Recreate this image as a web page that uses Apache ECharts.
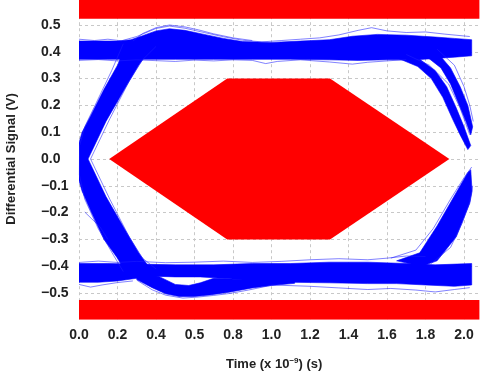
<!DOCTYPE html>
<html><head><meta charset="utf-8">
<script src="https://cdn.jsdelivr.net/npm/echarts@6/dist/echarts.min.js"></script>
<style>html,body{margin:0;padding:0;background:#fff}#c{width:480px;height:375px}</style>
</head><body><div id="c"></div>
<script>
// ---- tick labels ----
const X_TICKS = [0, 0.2, 0.4, 0.6, 0.8, 1.0, 1.2, 1.4, 1.6, 1.8, 2.0];
const X_TICK_LABELS = ['0.0', '0.2', '0.4', '0.5', '0.8', '1.0', '1.2', '1.4', '1.6', '1.8', '2.0'];
const Y_TICKS = [-0.5, -0.4, -0.3, -0.2, -0.1, 0, 0.1, 0.2, 0.3, 0.4, 0.5];
const Y_TICK_LABELS = ['\u22120.5', '\u22120.4', '\u22120.3', '\u22120.2', '\u22120.1', '0.0', '0.1', '0.2', '0.3', '0.4', '0.5'];

// ---- mask regions (red) ----
const MASK_HEXAGON = [[0.157, 0], [0.77, 0.3], [1.304, 0.3], [1.924, 0], [1.304, -0.3], [0.77, -0.3]];
const MASK_TOP = [[0, 0.523], [2.08, 0.523], [2.08, 0.6], [0, 0.6]];
const MASK_BOTTOM = [[0, -0.526], [2.08, -0.526], [2.08, -0.6], [0, -0.6]];

// ---- dense trace bands (blue), outlines ----
const BAND_TOP_RAIL = [
  [0, 0.44], [0.1, 0.44], [0.2, 0.44], [0.27, 0.445], [0.33, 0.46], [0.4, 0.478], [0.47, 0.486], [0.55, 0.48],
  [0.65, 0.465], [0.75, 0.45], [0.85, 0.438], [1.0, 0.435], [1.15, 0.44], [1.3, 0.445], [1.42, 0.458], [1.55, 0.465],
  [1.7, 0.462], [1.85, 0.455], [1.95, 0.45], [2.04, 0.445],
  [2.04, 0.385], [1.95, 0.38], [1.85, 0.375], [1.75, 0.37], [1.6, 0.37], [1.45, 0.368], [1.3, 0.37], [1.1, 0.372],
  [0.9, 0.372], [0.7, 0.372], [0.5, 0.372], [0.3, 0.372], [0.15, 0.372], [0, 0.372]
];
const BAND_BOTTOM_RAIL = [
  [0, -0.39], [0.15, -0.39], [0.3, -0.392], [0.5, -0.395], [0.7, -0.395], [0.9, -0.39], [1.1, -0.39], [1.3, -0.385],
  [1.5, -0.385], [1.7, -0.39], [1.85, -0.395], [2.04, -0.39],
  [2.04, -0.47], [1.95, -0.475], [1.8, -0.47], [1.65, -0.465], [1.5, -0.465], [1.3, -0.462], [1.1, -0.46], [1.0, -0.46],
  [0.9, -0.455], [0.8, -0.448], [0.7, -0.443], [0.63, -0.44], [0.5, -0.44], [0.42, -0.438], [0.3, -0.445], [0.2, -0.455], [0.1, -0.46], [0, -0.46]
];
const BAND_UNDERSHOOT = [
  [0.3, -0.42], [0.42, -0.44], [0.5, -0.468], [0.57, -0.472], [0.63, -0.462], [0.7, -0.445], [0.85, -0.45], [1.0, -0.455], [1.12, -0.458],
  [1.12, -0.464], [1.0, -0.472], [0.9, -0.481], [0.78, -0.497], [0.68, -0.507], [0.6, -0.513], [0.52, -0.513], [0.45, -0.503], [0.38, -0.48], [0.3, -0.45]
];
const BAND_LEFT_CROSS = [
  [0.24, 0.42], [0.2, 0.35], [0.13, 0.26], [0.06, 0.16], [0.016, 0.10], [0, 0.06], [0, -0.08], [0.016, -0.12],
  [0.065, -0.2], [0.13, -0.30], [0.2, -0.37], [0.24, -0.42],
  [0.38, -0.42], [0.31, -0.35], [0.24, -0.265], [0.14, -0.14], [0.047, 0], [0.14, 0.14], [0.24, 0.265], [0.31, 0.35], [0.38, 0.42]
];
const BAND_RIGHT_FALL_A = [
  [1.66, 0.375], [1.76, 0.345], [1.83, 0.3], [1.89, 0.23], [1.94, 0.15], [1.98, 0.09], [2.02, 0.035],
  [2.035, 0.05], [2.0, 0.12], [1.96, 0.19], [1.91, 0.27], [1.85, 0.33], [1.77, 0.372]
];
const BAND_RIGHT_FALL_B = [
  [1.8, 0.385], [1.88, 0.34], [1.93, 0.28], [1.97, 0.21], [2.01, 0.14], [2.035, 0.09],
  [2.045, 0.12], [2.02, 0.2], [1.98, 0.27], [1.93, 0.34], [1.87, 0.39]
];
const BAND_RIGHT_RISE = [
  [1.65, -0.38], [1.77, -0.35], [1.86, -0.25], [1.96, -0.125], [2.02, -0.05], [2.035, -0.04],
  [2.042, -0.12], [2.03, -0.165], [1.96, -0.29], [1.86, -0.38], [1.78, -0.4]
];

// ---- individual fringe traces ----
const TRACE_TOP_UPPER = [[0, 0.447], [0.08, 0.442], [0.15, 0.447], [0.22, 0.441], [0.3, 0.457], [0.4, 0.487], [0.47, 0.496], [0.55, 0.488], [0.65, 0.472], [0.75, 0.456], [0.85, 0.443], [0.95, 0.437], [1.05, 0.442], [1.15, 0.447], [1.25, 0.452], [1.35, 0.463], [1.45, 0.48], [1.52, 0.49], [1.6, 0.478], [1.7, 0.472], [1.8, 0.474], [1.9, 0.466], [2.03, 0.457]];
const TRACE_TOP_LOWER = [[0, 0.368], [0.1, 0.371], [0.2, 0.366], [0.3, 0.37], [0.4, 0.367], [0.5, 0.364], [0.6, 0.369], [0.7, 0.366], [0.8, 0.37], [0.9, 0.368], [0.97, 0.356], [1.03, 0.364], [1.15, 0.37], [1.3, 0.362], [1.42, 0.354], [1.5, 0.361], [1.6, 0.366], [1.7, 0.371]];
const TRACE_OVERSHOOT = [[0.28, 0.44], [0.33, 0.468], [0.4, 0.49], [0.47, 0.5], [0.55, 0.493], [0.62, 0.482], [0.7, 0.467], [0.8, 0.452], [0.9, 0.442]];
const TRACE_BOTTOM_UPPER = [[0, -0.386], [0.1, -0.381], [0.2, -0.386], [0.3, -0.382], [0.45, -0.387], [0.6, -0.385], [0.75, -0.381], [0.9, -0.386], [1.05, -0.382], [1.2, -0.376], [1.35, -0.372], [1.5, -0.376], [1.6, -0.37], [1.7, -0.362], [1.8, -0.364]];
const TRACE_BOTTOM_LOWER_L = [[0, -0.468], [0.06, -0.478], [0.12, -0.47], [0.2, -0.461], [0.28, -0.455]];
const TRACE_BOTTOM_LOWER_R = [[1.0, -0.47], [1.2, -0.475], [1.35, -0.481], [1.5, -0.487], [1.62, -0.483], [1.75, -0.489], [1.85, -0.496], [1.95, -0.487], [2.03, -0.48]];
const TRACE_UNDERSHOOT = [[0.3, -0.452], [0.38, -0.488], [0.45, -0.508], [0.54, -0.519], [0.62, -0.515], [0.7, -0.509], [0.78, -0.502], [0.88, -0.489], [1.0, -0.471]];
const TRACE_LEFT_STRAY = [[0.03, -0.198], [0.11, -0.254], [0.15, -0.3]];
const TRACE_LEFT_RISE_IN = [[0.06, 0.0], [0.16, 0.15], [0.26, 0.29], [0.33, 0.37], [0.4, 0.42]];
const TRACE_LEFT_FALL_IN = [[0.06, 0.0], [0.16, -0.15], [0.26, -0.29], [0.33, -0.37], [0.4, -0.41]];
const TRACE_LEFT_OUTER = [[0.23, 0.43], [0.17, 0.33], [0.09, 0.21], [0.03, 0.12], [0.003, 0.05], [0.002, -0.06], [0.03, -0.15], [0.1, -0.26], [0.18, -0.36], [0.23, -0.42]];
const TRACE_RIGHT_FALL = [[1.7, 0.39], [1.82, 0.35], [1.92, 0.28], [1.98, 0.19], [2.03, 0.09]];
const TRACE_RIGHT_FALL_OUT = [[1.86, 0.41], [1.95, 0.35], [2.0, 0.27], [2.03, 0.2], [2.048, 0.14]];
const TRACE_RIGHT_RISE_OUT = [[1.83, -0.39], [1.93, -0.33], [1.99, -0.24], [2.03, -0.16], [2.045, -0.1]];
const TRACE_RIGHT_RISE_IN = [[1.62, -0.37], [1.75, -0.34], [1.84, -0.26], [1.93, -0.15], [2.0, -0.07], [2.04, -0.03]];

const MASKS = [MASK_TOP, MASK_BOTTOM, MASK_HEXAGON];
const BANDS = [BAND_TOP_RAIL, BAND_BOTTOM_RAIL, BAND_UNDERSHOOT, BAND_LEFT_CROSS, BAND_RIGHT_FALL_A, BAND_RIGHT_FALL_B, BAND_RIGHT_RISE];
const TRACES = [TRACE_TOP_UPPER, TRACE_TOP_LOWER, TRACE_OVERSHOOT, TRACE_BOTTOM_UPPER, TRACE_BOTTOM_LOWER_L, TRACE_BOTTOM_LOWER_R,
  TRACE_UNDERSHOOT, TRACE_LEFT_STRAY, TRACE_LEFT_RISE_IN, TRACE_LEFT_FALL_IN, TRACE_LEFT_OUTER, TRACE_RIGHT_FALL,
  TRACE_RIGHT_FALL_OUT, TRACE_RIGHT_RISE_OUT, TRACE_RIGHT_RISE_IN];

const FONT = 'Liberation Sans, Arial, Helvetica, sans-serif';
const TXT = '#222';

function polySeries(polys, style, z) {
  return {
    type: 'custom', z: z, silent: true, clip: true,
    data: polys.map(p => [p[0][0], p[0][1]]),
    renderItem: function (params, api) {
      const pts = polys[params.dataIndex].map(pt => api.coord(pt));
      return { type: 'polygon', shape: { points: pts }, style: style };
    }
  };
}

function tickLabel(ticks, labels) {
  return function (v) {
    const i = ticks.findIndex(t => Math.abs(t - v) < 1e-6);
    return i < 0 ? '' : labels[i];
  };
}

const series = [
  polySeries(MASKS, { fill: '#ff0000' }, 2),
  polySeries(BANDS, { fill: '#0000ff', stroke: '#0000ff', lineWidth: 0.6 }, 3)
];
TRACES.forEach(t => series.push({
  type: 'line', data: t, showSymbol: false, silent: true, z: 4,
  lineStyle: { color: 'rgba(30,30,255,0.7)', width: 0.8 }
}));

const chart = echarts.init(document.getElementById('c'), null, { renderer: 'canvas' });
chart.setOption({
  animation: false,
  backgroundColor: '#fff',
  grid: { left: 79, top: -1.8, width: 400.4, height: 321.6, outerBoundsMode: 'none' },
  xAxis: {
    type: 'value', min: 0, max: 2.08, interval: 0.2,
    axisLine: { show: false }, axisTick: { show: false },
    splitLine: { show: true, showMaxLine: false, lineStyle: { color: '#c8c8c8', type: [3, 3], width: 1 } },
    axisLabel: { formatter: tickLabel(X_TICKS, X_TICK_LABELS), margin: 8, fontFamily: FONT, fontWeight: 'bold', fontSize: 14, color: TXT },
    name: 'Time (x 10{sup|\u22129}) (s)', nameLocation: 'middle', nameGap: 37,
    nameTextStyle: {
      fontFamily: FONT, fontWeight: 'bold', fontSize: 13, color: TXT, padding: [0, 10, 0, 0], lineHeight: 15,
      rich: { sup: { fontFamily: FONT, fontWeight: 'bold', fontSize: 8, color: TXT, verticalAlign: 'top', lineHeight: 15, padding: [0, 0, 6, 0] } }
    }
  },
  yAxis: {
    type: 'value', min: -0.6, max: 0.6, interval: 0.1,
    axisLine: { show: false }, axisTick: { show: false },
    splitLine: { show: true, showMinLine: false, showMaxLine: false, lineStyle: { color: '#c8c8c8', type: [3, 3], width: 1 } },
    axisLabel: { formatter: tickLabel(Y_TICKS, Y_TICK_LABELS), align: 'left', margin: 38, fontFamily: FONT, fontWeight: 'bold', fontSize: 14, color: TXT },
    name: 'Differential Signal (V)', nameLocation: 'middle', nameGap: 61,
    nameTextStyle: { fontFamily: FONT, fontWeight: 'bold', fontSize: 13, color: TXT }
  },
  series: series
});
</script></body></html>
